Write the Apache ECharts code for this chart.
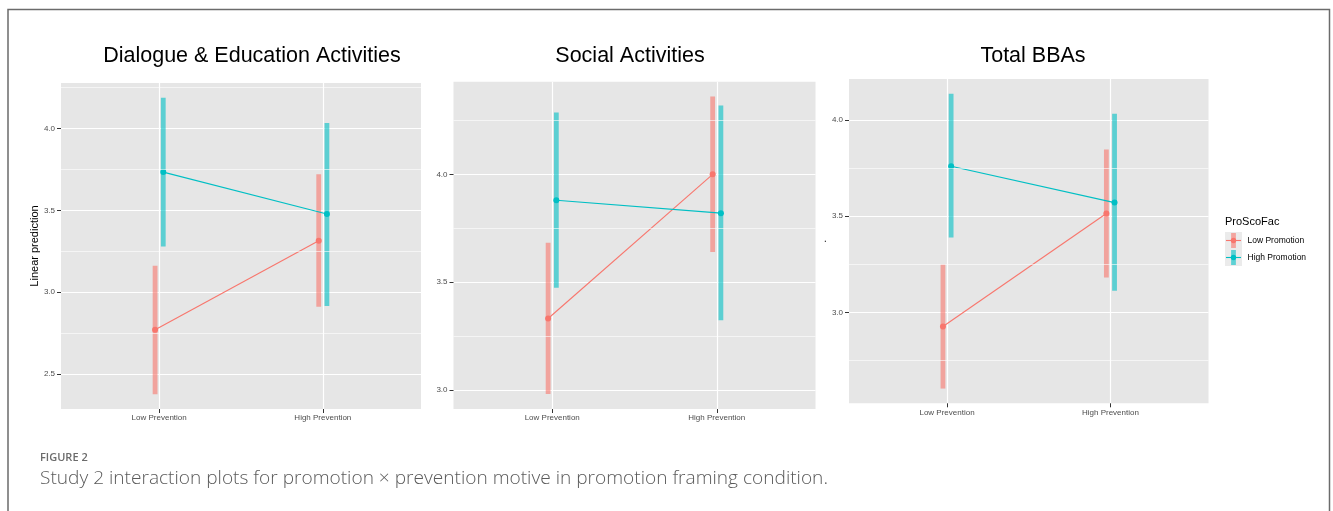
<!DOCTYPE html>
<html>
<head>
<meta charset="utf-8">
<script src="https://cdn.jsdelivr.net/npm/echarts@6/dist/echarts.min.js"></script>
<style>
  html, body { margin: 0; padding: 0; background: #ffffff; }
  #chart { width: 1333px; height: 511px; }
</style>
</head>
<body>
<div id="chart"></div>
<script>
// ---------- data ----------
const categories = ['Low Prevention', 'High Prevention'];
const groupNames = ['Low Promotion', 'High Promotion'];
const legendTitle = 'ProScoFac';
const panelTitles = ['Dialogue & Education Activities', 'Social Activities', 'Total BBAs'];
const yAxisNames = ['Linear prediction', '', '.'];
const figureLabel = 'FIGURE 2';
const figureCaption = 'Study 2 interaction plots for promotion \u00d7 prevention motive in promotion framing condition.';

// Dialogue & Education Activities: estimate, lower and upper bound per prevention level
const dialogueLowPromo = [2.771, 3.315];
const dialogueLowPromoLower = [2.377, 2.912];
const dialogueLowPromoUpper = [3.162, 3.721];
const dialogueHighPromo = [3.734, 3.478];
const dialogueHighPromoLower = [3.279, 2.916];
const dialogueHighPromoUpper = [4.188, 4.034];

// Social Activities
const socialLowPromo = [3.331, 4.000];
const socialLowPromoLower = [2.980, 3.640];
const socialLowPromoUpper = [3.683, 4.361];
const socialHighPromo = [3.880, 3.820];
const socialHighPromoLower = [3.474, 3.323];
const socialHighPromoUpper = [4.287, 4.320];

// Total BBAs
const totalLowPromo = [2.927, 3.514];
const totalLowPromoLower = [2.604, 3.182];
const totalLowPromoUpper = [3.250, 3.847];
const totalHighPromo = [3.760, 3.571];
const totalHighPromoLower = [3.389, 3.113];
const totalHighPromoUpper = [4.137, 4.033];

// y-axis breaks
const dialogueTicks = [2.5, 3.0, 3.5, 4.0];
const dialogueMinor = [2.75, 3.25, 3.75, 4.25];
const socialTicks = [3.0, 3.5, 4.0];
const socialMinor = [3.25, 3.75, 4.25];
const totalTicks = [3.0, 3.5, 4.0];
const totalMinor = [2.75, 3.25, 3.75];

// ---------- layout & style ----------
const groupColors = ['#F8766D', '#00BFC4'];
const FONT = '"Liberation Sans", Arial, Helvetica, sans-serif';
const CAPTION_FONT = '"Open Sans", "Noto Sans", sans-serif';
const dodge = 0.025;

const panels = [
  { title: panelTitles[0], titleX: 252, yName: yAxisNames[0], nameGap: 20,
    grid: { left: 61, top: 83, width: 360, height: 326 },
    ticks: dialogueTicks, minor: dialogueMinor,
    groups: [
      { est: dialogueLowPromo, lo: dialogueLowPromoLower, hi: dialogueLowPromoUpper },
      { est: dialogueHighPromo, lo: dialogueHighPromoLower, hi: dialogueHighPromoUpper }
    ] },
  { title: panelTitles[1], titleX: 630, yName: yAxisNames[1], nameGap: 20,
    grid: { left: 453.5, top: 81.7, width: 362, height: 327.3 },
    ticks: socialTicks, minor: socialMinor,
    groups: [
      { est: socialLowPromo, lo: socialLowPromoLower, hi: socialLowPromoUpper },
      { est: socialHighPromo, lo: socialHighPromoLower, hi: socialHighPromoUpper }
    ] },
  { title: panelTitles[2], titleX: 1033, yName: yAxisNames[2], nameGap: 17,
    grid: { left: 849, top: 79, width: 359.5, height: 324.3 },
    ticks: totalTicks, minor: totalMinor,
    groups: [
      { est: totalLowPromo, lo: totalLowPromoLower, hi: totalLowPromoUpper },
      { est: totalHighPromo, lo: totalHighPromoLower, hi: totalHighPromoUpper }
    ] }
];

const grids = [], xAxes = [], yAxes = [], series = [], graphics = [];

panels.forEach(function (p, pi) {
  // y range: data extent expanded by 5% on each side
  let lo = Infinity, hi = -Infinity;
  p.groups.forEach(function (g) {
    lo = Math.min(lo, Math.min.apply(null, g.lo));
    hi = Math.max(hi, Math.max.apply(null, g.hi));
  });
  const pad = (hi - lo) * 0.05;

  grids.push(Object.assign({ show: true, backgroundColor: '#E6E6E6', borderWidth: 0 }, p.grid));

  xAxes.push({
    type: 'value', gridIndex: pi, min: 0.4, max: 2.6,
    axisLine: { show: false },
    axisTick: { show: true, length: 4, lineStyle: { color: '#333333', width: 1 }, customValues: [1, 2] },
    axisLabel: {
      customValues: [1, 2], margin: 5, color: '#4D4D4D', fontSize: 8, fontFamily: FONT,
      formatter: function (v) { return categories[Math.round(v) - 1] || ''; }
    },
    splitLine: { show: true, lineStyle: { color: '#FFFFFF', width: 1.2 } }
  });

  yAxes.push({
    type: 'value', gridIndex: pi, min: lo - pad, max: hi + pad,
    name: p.yName, nameLocation: 'middle', nameRotate: 90, nameGap: p.nameGap,
    nameTextStyle: { color: '#000000', fontSize: 11, fontFamily: FONT },
    axisLine: { show: false },
    axisTick: { show: true, length: 4, lineStyle: { color: '#333333', width: 1 }, customValues: p.ticks },
    axisLabel: {
      customValues: p.ticks, margin: 6, color: '#4D4D4D', fontSize: 8, fontFamily: FONT,
      formatter: function (v) { return v.toFixed(1); }
    },
    splitLine: { show: true, lineStyle: { color: '#FFFFFF', width: 1.2 } }
  });

  // minor grid lines
  series.push({
    type: 'line', xAxisIndex: pi, yAxisIndex: pi, data: [], z: 1, silent: true,
    markLine: {
      silent: true, symbol: 'none', animation: false,
      label: { show: false },
      lineStyle: { color: '#FFFFFF', width: 0.6, type: 'solid' },
      data: p.minor.map(function (v) { return { yAxis: v }; })
    }
  });

  p.groups.forEach(function (g, gi) {
    const offset = gi === 0 ? -dodge : dodge;
    const color = groupColors[gi];
    // confidence interval bars
    series.push({
      type: 'custom', name: groupNames[gi], xAxisIndex: pi, yAxisIndex: pi, z: 2,
      data: categories.map(function (c, ci) { return [ci + 1 + offset, g.lo[ci], g.hi[ci]]; }),
      encode: { x: 0, y: [1, 2] },
      renderItem: function (params, api) {
        const top = api.coord([api.value(0), api.value(2)]);
        const bot = api.coord([api.value(0), api.value(1)]);
        return {
          type: 'rect',
          shape: { x: top[0] - 2.4, y: top[1], width: 4.8, height: bot[1] - top[1] },
          style: { fill: color, opacity: 0.6 }
        };
      }
    });
    // estimates joined by a line
    series.push({
      type: 'line', name: groupNames[gi], xAxisIndex: pi, yAxisIndex: pi, z: 3,
      data: categories.map(function (c, ci) { return [ci + 1 + offset, g.est[ci]]; }),
      symbol: 'circle', symbolSize: 6, showSymbol: true,
      itemStyle: { color: color },
      lineStyle: { color: color, width: 1.1 },
      animation: false
    });
  });

  graphics.push({
    type: 'text', x: p.titleX, y: 56,
    style: { text: p.title, fill: '#000000', font: '21.5px ' + FONT, align: 'center', verticalAlign: 'middle' }
  });
});

// legend
const legX = 1225, legY = 232, key = 17;
graphics.push({
  type: 'text', x: legX, y: 222,
  style: { text: legendTitle, fill: '#000000', font: '11px ' + FONT, align: 'left', verticalAlign: 'middle' }
});
groupNames.forEach(function (name, gi) {
  const y0 = legY + gi * key;
  const cx = legX + key / 2, cy = y0 + key / 2;
  graphics.push({ type: 'rect', shape: { x: legX, y: y0, width: key, height: key }, style: { fill: '#EBEBEB' } });
  graphics.push({ type: 'rect', shape: { x: cx - 2.4, y: y0 + 1, width: 4.8, height: key - 2 }, style: { fill: groupColors[gi], opacity: 0.6 } });
  graphics.push({ type: 'line', shape: { x1: legX + 1, y1: cy, x2: legX + key - 1, y2: cy }, style: { stroke: groupColors[gi], lineWidth: 1.1 } });
  graphics.push({ type: 'circle', shape: { cx: cx, cy: cy, r: 2.7 }, style: { fill: groupColors[gi] } });
  graphics.push({
    type: 'text', x: legX + key + 5.5, y: cy,
    style: { text: name, fill: '#000000', font: '8.5px ' + FONT, align: 'left', verticalAlign: 'middle' }
  });
});

// caption
graphics.push({
  type: 'text', x: 40, y: 458,
  style: { text: figureLabel, fill: '#6B6B6B', font: '600 11px ' + CAPTION_FONT, align: 'left', verticalAlign: 'middle' }
});
graphics.push({
  type: 'text', x: 40, y: 479,
  style: { text: figureCaption, fill: '#5A5A5A', font: '300 19.1px ' + CAPTION_FONT, align: 'left', verticalAlign: 'middle' }
});

// frame
graphics.push({
  type: 'rect', z: 10, shape: { x: 8, y: 9.5, width: 1321.5, height: 600 },
  style: { fill: 'none', stroke: '#6B6B6B', lineWidth: 1.5 }
});

const chart = echarts.init(document.getElementById('chart'), null, { renderer: 'canvas' });
chart.setOption({
  backgroundColor: '#FFFFFF',
  animation: false,
  grid: grids,
  xAxis: xAxes,
  yAxis: yAxes,
  series: series,
  graphic: graphics
});
</script>
</body>
</html>
